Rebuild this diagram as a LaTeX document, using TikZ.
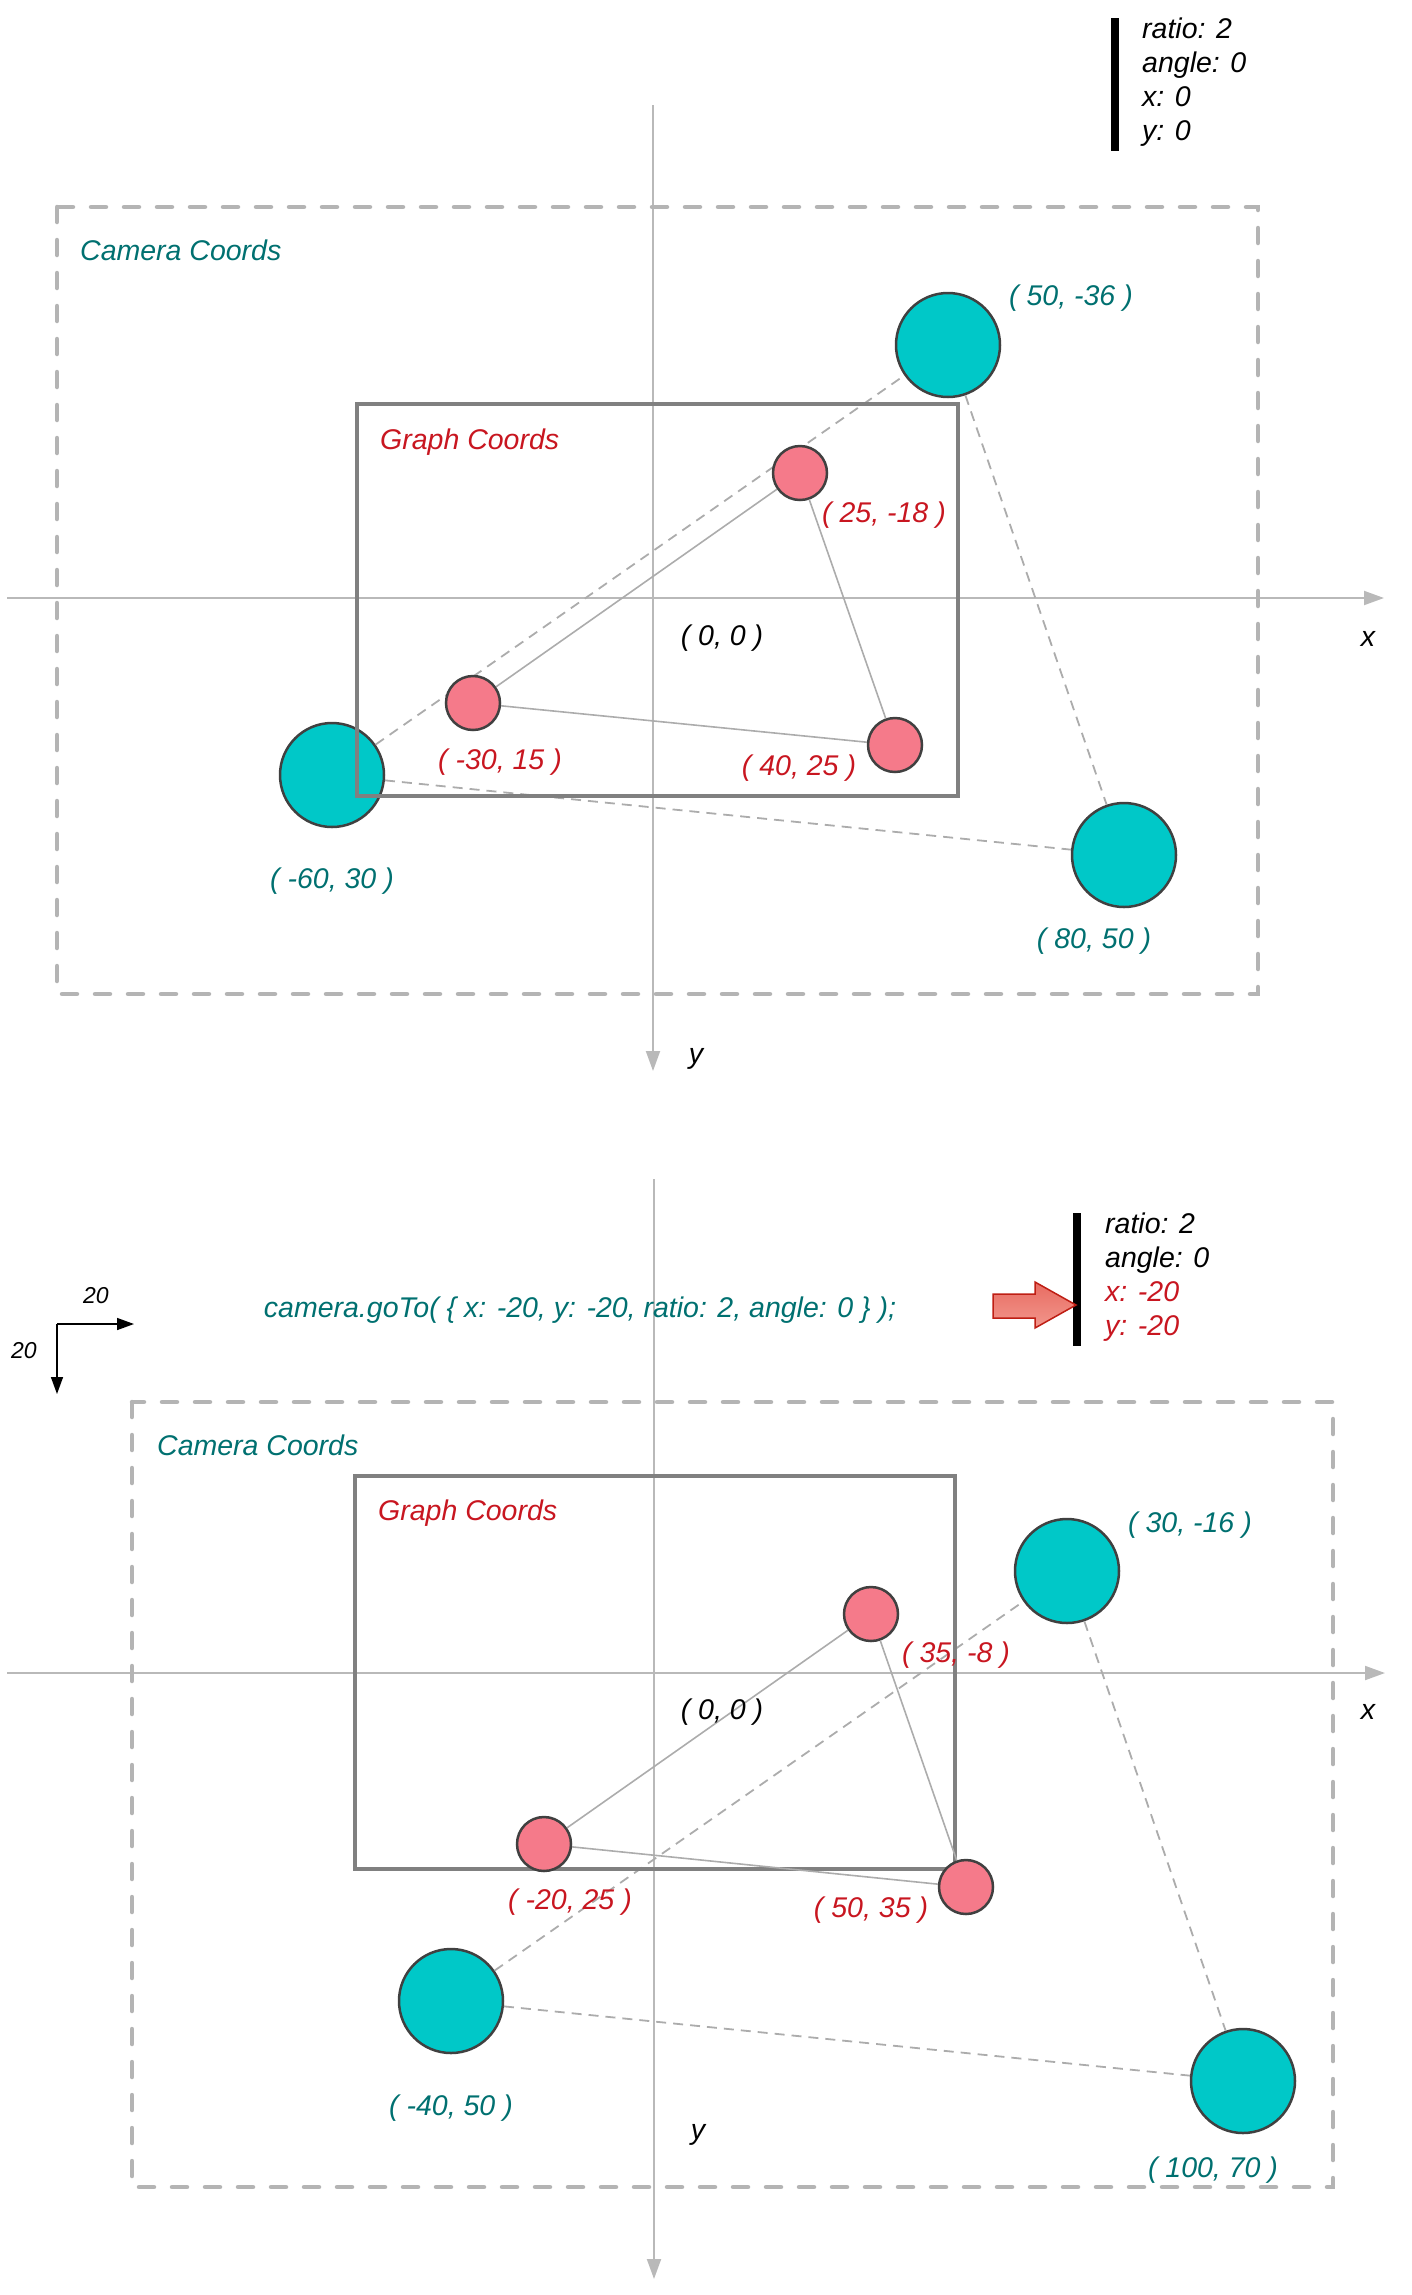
\documentclass[tikz,border=0pt]{standalone}
\usepackage{fontspec}
\setmainfont{Liberation Sans}
\usetikzlibrary{arrows.meta}
\definecolor{cyanfill}{RGB}{0,200,200}
\definecolor{pinkfill}{RGB}{245,122,138}
\definecolor{circedge}{RGB}{64,64,64}
\definecolor{tealtxt}{RGB}{0,112,112}
\definecolor{redtxt}{RGB}{200,22,32}
\definecolor{axisgray}{RGB}{185,185,185}
\definecolor{boxgray}{RGB}{128,128,128}
\definecolor{dashgray}{RGB}{180,180,180}
\definecolor{linegray}{RGB}{172,172,172}
\definecolor{arrowedge}{RGB}{190,30,20}
\definecolor{arrowtop}{RGB}{232,108,98}
\definecolor{arrowbot}{RGB}{242,150,140}
\begin{document}
\begin{tikzpicture}[x=1pt,y=-1pt,
 lbl/.style={font=\fontsize{28.5}{33}\selectfont\itshape, inner sep=0pt},
 tl/.style={lbl, text=tealtxt},
 rl/.style={lbl, text=redtxt},
 bl/.style={lbl, text=black},
 smalltxt/.style={font=\fontsize{23}{27}\selectfont\itshape, inner sep=0pt},
 bigc/.style={circle, draw=circedge, line width=2.5pt, fill=cyanfill, minimum size=104pt, inner sep=0pt},
 smallc/.style={circle, draw=circedge, line width=2.5pt, fill=pinkfill, minimum size=54pt, inner sep=0pt},
 axisline/.style={draw=axisgray, line width=2pt, -{Triangle[length=20pt,width=14pt]}},
 cambox/.style={draw=dashgray, line width=4.5pt, dash pattern=on 15pt off 18pt, line cap=round},
 graphbox/.style={draw=boxgray, line width=3.5pt},
 solidlink/.style={draw=linegray, line width=1.6pt},
 dashlink/.style={draw=linegray, line width=1.8pt, dash pattern=on 10pt off 7pt},
 legbar/.style={line width=8pt, draw=black},
 tinyarrow/.style={draw=black, line width=1.5pt, -{Triangle[length=17pt,width=12pt]}},
]
\useasboundingbox (0,0) rectangle (1412,2295);

% ================= TOP =================
\coordinate (tAxL) at (7,598);
\coordinate (tAxR) at (1384,598);
\coordinate (tAyT) at (653,105);
\coordinate (tAyB) at (653,1071);
\draw[axisline] (tAxL) -- (tAxR);
\draw[axisline] (tAyT) -- (tAyB);
\node[bl, anchor=base] (tx) at (1368,646) {x};
\node[bl, anchor=base] (ty) at (696,1063) {y};

\draw[cambox] (57,207) rectangle (1258,994);

\node[bigc] (cA) at (948,345) {};
\node[bigc] (cB) at (332,775) {};
\node[bigc] (cC) at (1124,855) {};
\draw[dashlink] (cB) -- (cA);
\draw[dashlink] (cA) -- (cC);
\draw[dashlink] (cB) -- (cC);

\draw[graphbox] (357,404) rectangle (958,796);

\node[smallc] (pA) at (800,473) {};
\node[smallc] (pB) at (473,703) {};
\node[smallc] (pC) at (895,745) {};
\draw[solidlink] (pB) -- (pA);
\draw[solidlink] (pA) -- (pC);
\draw[solidlink] (pB) -- (pC);

\node[tl] (lcA) at (1071,298) {( 50, -36 )};
\node[tl] (lcB) at (332,881) {( -60, 30 )};
\node[tl] (lcC) at (1094,941) {( 80, 50 )};
\node[rl] (lpA) at (884,515) {( 25, -18 )};
\node[rl] (lpB) at (500,762) {( -30, 15 )};
\node[rl] (lpC) at (799,768) {( 40, 25 )};
\node[bl] (to) at (722,638) {( 0, 0 )};
\node[tl, anchor=west] (tcam) at (80,250) {Camera Coords};
\node[rl, anchor=west] (tgr) at (380,442) {Graph Coords};

\draw[legbar] (1115,18) -- (1115,151);
\node[bl, anchor=base west] (tl1) at (1142,38) {ratio: 2};
\node[bl, anchor=base west] (tl2) at (1142,72) {angle: 0};
\node[bl, anchor=base west] (tl3) at (1142,106) {x: 0};
\node[bl, anchor=base west] (tl4) at (1142,140) {y: 0};

% ================= BOTTOM =================
\coordinate (bAxL) at (7,1673);
\coordinate (bAxR) at (1385,1673);
\coordinate (bAyT) at (654,1179);
\coordinate (bAyB) at (654,2279);
\draw[axisline] (bAxL) -- (bAxR);
\draw[axisline] (bAyT) -- (bAyB);
\node[bl, anchor=base] (bx) at (1368,1719) {x};
\node[bl, anchor=base] (by) at (698,2139) {y};

\draw[cambox] (132,1402) rectangle (1333,2187);

\node[bigc] (dA) at (1067,1571) {};
\node[bigc] (dB) at (451,2001) {};
\node[bigc] (dC) at (1243,2081) {};
\draw[dashlink] (dB) -- (dA);
\draw[dashlink] (dA) -- (dC);
\draw[dashlink] (dB) -- (dC);

\draw[graphbox] (355,1476) rectangle (955,1869);

\node[smallc] (qA) at (871,1614) {};
\node[smallc] (qB) at (544,1844) {};
\node[smallc] (qC) at (966,1887) {};
\draw[solidlink] (qB) -- (qA);
\draw[solidlink] (qA) -- (qC);
\draw[solidlink] (qB) -- (qC);

\node[tl] (ldA) at (1190,1525) {( 30, -16 )};
\node[tl] (ldB) at (451,2108) {( -40, 50 )};
\node[tl] (ldC) at (1213,2170) {( 100, 70 )};
\node[rl] (lqA) at (956,1655) {( 35, -8 )};
\node[rl] (lqB) at (570,1902) {( -20, 25 )};
\node[rl] (lqC) at (871,1910) {( 50, 35 )};
\node[bl] (bo) at (722,1712) {( 0, 0 )};
\node[tl, anchor=west] (bcam) at (157,1445) {Camera Coords};
\node[rl, anchor=west] (bgr) at (378,1513) {Graph Coords};

\node[tl] (code) at (580,1310) {camera.goTo( \{ x: -20, y: -20, ratio: 2, angle: 0 \} );};

\draw[legbar] (1077,1213) -- (1077,1346);
\node[bl, anchor=base west] (bl1) at (1105,1233) {ratio: 2};
\node[bl, anchor=base west] (bl2) at (1105,1267) {angle: 0};
\node[rl, anchor=base west] (bl3) at (1105,1301) {x: -20};
\node[rl, anchor=base west] (bl4) at (1105,1335) {y: -20};

\path[draw=arrowedge, line width=1.5pt, line join=miter, top color=arrowtop, bottom color=arrowbot]
  (993,1294) -- (1035,1294) -- (1035,1282) -- (1076,1305) -- (1035,1328) -- (1035,1318) -- (993,1318) -- cycle;

\coordinate (so) at (57,1324);
\coordinate (sx) at (134,1324);
\coordinate (sy) at (57,1394);
\draw[tinyarrow] (so) -- (sx);
\draw[tinyarrow] (so) -- (sy);
\node[smalltxt] (s20a) at (96,1296) {20};
\node[smalltxt] (s20b) at (24,1351) {20};
\end{tikzpicture}
\end{document}
